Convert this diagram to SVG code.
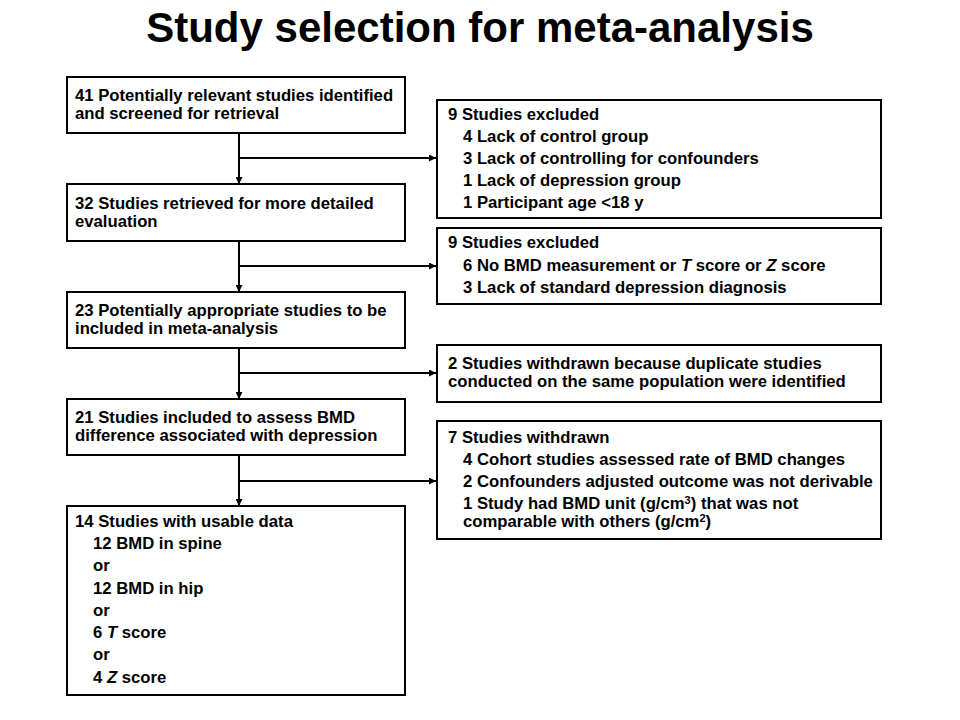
<svg xmlns="http://www.w3.org/2000/svg" width="960" height="720" viewBox="0 0 960 720">
<style>
.box{fill:#fff;stroke:#000;stroke-width:2}
.t{font-family:"Liberation Sans",Arial,sans-serif;font-weight:bold;font-size:16.7px;fill:#000}
.title{font-family:"Liberation Sans",Arial,sans-serif;font-weight:bold;font-size:42px;fill:#000}
.ln{stroke:#000;stroke-width:2;fill:none}
</style>
<defs>
<marker id="ah" viewBox="0 0 10 10" refX="10" refY="5" markerWidth="7" markerHeight="7" orient="auto" markerUnits="userSpaceOnUse">
<path d="M0,0 L10,5 L0,10 z" fill="#000"/>
</marker>
</defs>
<rect width="960" height="720" fill="#fff"/>
<text class="title" x="480" y="42" text-anchor="middle">Study selection for meta-analysis</text>

<g id="connectors">
<line class="ln" x1="239" y1="133" x2="239" y2="184" marker-end="url(#ah)"/>
<line class="ln" x1="239" y1="158" x2="436" y2="158" marker-end="url(#ah)"/>
<line class="ln" x1="239" y1="241" x2="239" y2="292" marker-end="url(#ah)"/>
<line class="ln" x1="239" y1="266" x2="436" y2="266" marker-end="url(#ah)"/>
<line class="ln" x1="239" y1="348" x2="239" y2="399" marker-end="url(#ah)"/>
<line class="ln" x1="239" y1="373" x2="436" y2="373" marker-end="url(#ah)"/>
<line class="ln" x1="239" y1="455" x2="239" y2="506" marker-end="url(#ah)"/>
<line class="ln" x1="239" y1="481" x2="436" y2="481" marker-end="url(#ah)"/>
</g>

<g id="n1">
<rect class="box" x="67" y="77" width="338" height="56"/>
<text class="t" x="75" y="101">41 Potentially relevant studies identified</text>
<text class="t" x="75" y="119">and screened for retrieval</text>
</g>
<g id="n2">
<rect class="box" x="67" y="184" width="338" height="57"/>
<text class="t" x="75" y="209">32 Studies retrieved for more detailed</text>
<text class="t" x="75" y="227">evaluation</text>
</g>
<g id="n3">
<rect class="box" x="67" y="292" width="338" height="56"/>
<text class="t" x="75" y="316">23 Potentially appropriate studies to be</text>
<text class="t" x="75" y="334">included in meta-analysis</text>
</g>
<g id="n4">
<rect class="box" x="67" y="399" width="338" height="56"/>
<text class="t" x="75" y="423">21 Studies included to assess BMD</text>
<text class="t" x="75" y="441">difference associated with depression</text>
</g>
<g id="n5">
<rect class="box" x="67" y="506" width="338" height="189"/>
<text class="t" x="75" y="527">14 Studies with usable data</text>
<text class="t" x="93" y="549">12 BMD in spine</text>
<text class="t" x="93" y="571">or</text>
<text class="t" x="93" y="594">12 BMD in hip</text>
<text class="t" x="93" y="616">or</text>
<text class="t" x="93" y="638">6 <tspan font-style="italic">T</tspan> score</text>
<text class="t" x="93" y="660">or</text>
<text class="t" x="93" y="683">4 <tspan font-style="italic">Z</tspan> score</text>
</g>

<g id="e1">
<rect class="box" x="437" y="100" width="444" height="118"/>
<text class="t" x="448" y="120">9 Studies excluded</text>
<text class="t" x="463" y="142">4 Lack of control group</text>
<text class="t" x="463" y="164">3 Lack of controlling for confounders</text>
<text class="t" x="463" y="186">1 Lack of depression group</text>
<text class="t" x="463" y="208">1 Participant age &lt;18 y</text>
</g>
<g id="e2">
<rect class="box" x="437" y="228" width="444" height="76"/>
<text class="t" x="448" y="248">9 Studies excluded</text>
<text class="t" x="463" y="271">6 No BMD measurement or <tspan font-style="italic">T</tspan> score or <tspan font-style="italic">Z</tspan> score</text>
<text class="t" x="463" y="293">3 Lack of standard depression diagnosis</text>
</g>
<g id="e3">
<rect class="box" x="437" y="345" width="444" height="57"/>
<text class="t" x="448" y="369">2 Studies withdrawn because duplicate studies</text>
<text class="t" x="448" y="387">conducted on the same population were identified</text>
</g>
<g id="e4">
<rect class="box" x="437" y="421" width="444" height="118"/>
<text class="t" x="448" y="443">7 Studies withdrawn</text>
<text class="t" x="463" y="465">4 Cohort studies assessed rate of BMD changes</text>
<text class="t" x="463" y="487">2 Confounders adjusted outcome was not derivable</text>
<text class="t" x="463" y="509">1 Study had BMD unit (g/cm<tspan font-size="11" dy="-5">3</tspan><tspan dy="5">) that was not</tspan></text>
<text class="t" x="463" y="527">comparable with others (g/cm<tspan font-size="11" dy="-5">2</tspan><tspan dy="5">)</tspan></text>
</g>
</svg>
